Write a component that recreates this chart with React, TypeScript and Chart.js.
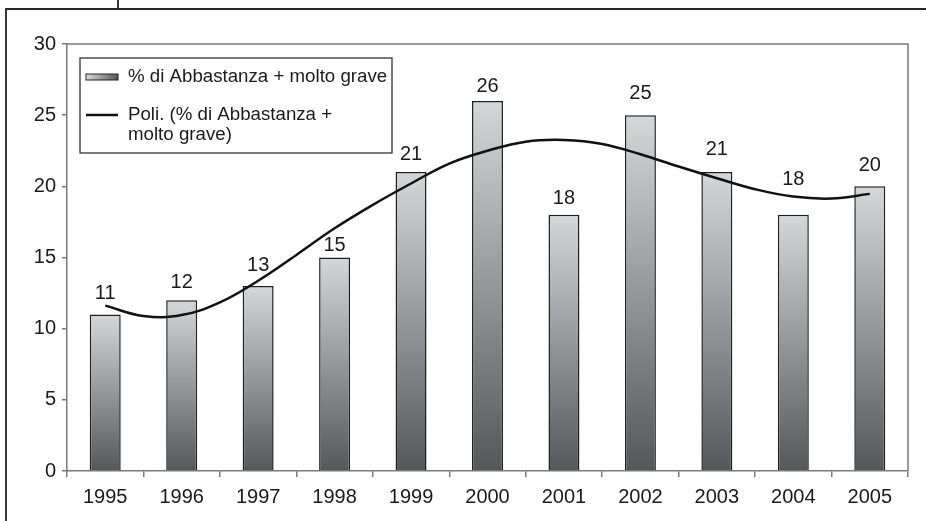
import { useEffect, useRef } from "react";
import { Chart, registerables } from "chart.js";

Chart.register(...registerables);

// Survey years shown along the x axis
const years = ["1995", "1996", "1997", "1998", "1999", "2000", "2001", "2002", "2003", "2004", "2005"];
// "% di Abbastanza + molto grave" per year
const percentGrave = [11, 12, 13, 15, 21, 26, 18, 25, 21, 18, 20];
// Polynomial trend line, sampled at whole and half year positions (0 = 1995)
const trendPos = [0, 0.5, 1, 1.5, 2, 2.5, 3, 3.5, 4, 4.5, 5, 5.5, 6, 6.5, 7, 7.5, 8, 8.5, 9, 9.5, 10];
const trendVal = [11.62, 10.89, 10.96, 11.85, 13.37, 15.18, 17.05, 18.7, 20.2, 21.6, 22.5, 23.14, 23.26, 22.98, 22.25, 21.39, 20.57, 19.8, 19.28, 19.14, 19.47];
// Value axis
const yMin = 0;
const yMax = 30;
const yStep = 5;
// Legend entries
const barLegend = "% di Abbastanza + molto grave";
const trendLegend = ["Poli. (% di Abbastanza +", "molto grave)"];

const FONT = "'Liberation Sans', Arial, Helvetica, sans-serif";
const TEXT = "#1a1a1a";
const AXIS = "#7a7a7a";
// distance of each value label's centre above its bar
const labelLift = [21, 18, 20, 12, 18, 14, 16, 22, 23, 35, 21];

const decorations = {
  id: "decorations",
  beforeDraw(chart: any) {
    const { ctx, chartArea: a } = chart;
    ctx.save();
    // outer frame
    ctx.strokeStyle = "#262626";
    ctx.lineWidth = 1.8;
    ctx.beginPath();
    ctx.moveTo(6, chart.height);
    ctx.lineTo(6, 9);
    ctx.lineTo(chart.width, 9);
    ctx.moveTo(118, 0);
    ctx.lineTo(118, 9);
    ctx.stroke();
    // plot area border (top and right)
    ctx.strokeStyle = AXIS;
    ctx.lineWidth = 1.5;
    ctx.beginPath();
    ctx.moveTo(a.left, a.top);
    ctx.lineTo(a.right, a.top);
    ctx.lineTo(a.right, a.bottom);
    ctx.stroke();
    ctx.restore();
  },
  afterDatasetsDraw(chart: any) {
    const { ctx } = chart;
    const meta = chart.getDatasetMeta(0);
    ctx.save();
    ctx.fillStyle = TEXT;
    ctx.font = `20px ${FONT}`;
    ctx.textAlign = "center";
    ctx.textBaseline = "middle";
    meta.data.forEach((el: any, i: number) => {
      ctx.fillText(String(percentGrave[i]), el.x, el.y - labelLift[i]);
    });
    ctx.restore();
  },
  afterDraw(chart: any) {
    const { ctx, chartArea: a } = chart;
    const x0 = a.left + 13;
    const y0 = a.top + 14;
    ctx.save();
    ctx.fillStyle = "#ffffff";
    ctx.fillRect(x0, y0, 312, 95);
    ctx.strokeStyle = "#333333";
    ctx.lineWidth = 1.3;
    ctx.strokeRect(x0, y0, 312, 95);
    // bar swatch
    const g = ctx.createLinearGradient(x0 + 6, 0, x0 + 38, 0);
    g.addColorStop(0, "#dadadc");
    g.addColorStop(1, "#55565a");
    ctx.fillStyle = g;
    ctx.fillRect(x0 + 6, y0 + 16, 32, 6);
    ctx.strokeStyle = "#222";
    ctx.lineWidth = 1;
    ctx.strokeRect(x0 + 6, y0 + 16, 32, 6);
    // line swatch
    ctx.strokeStyle = "#111";
    ctx.lineWidth = 2.5;
    ctx.beginPath();
    ctx.moveTo(x0 + 6, y0 + 57);
    ctx.lineTo(x0 + 38, y0 + 57);
    ctx.stroke();
    ctx.fillStyle = TEXT;
    ctx.font = `18.7px ${FONT}`;
    ctx.textAlign = "left";
    ctx.textBaseline = "middle";
    ctx.fillText(barLegend, x0 + 48, y0 + 19);
    ctx.fillText(trendLegend[0], x0 + 48, y0 + 57);
    ctx.fillText(trendLegend[1], x0 + 48, y0 + 77);
    ctx.restore();
  },
};

export default function App() {
  const canvasRef = useRef<HTMLCanvasElement | null>(null);

  useEffect(() => {
    if (!canvasRef.current) return;
    const chart = new Chart(canvasRef.current, {
      type: "bar",
      data: {
        labels: years,
        datasets: [
          {
            type: "bar",
            label: barLegend,
            data: percentGrave,
            grouped: false,
            backgroundColor: (c: any) => {
              const ch = c.chart;
              if (!ch.chartArea || c.type !== "data") return "#999";
              const ys = ch.scales.y;
              const top = ys.getPixelForValue(c.raw);
              const bottom = ys.getPixelForValue(0);
              const g = ch.ctx.createLinearGradient(0, top, 0, bottom);
              g.addColorStop(0, "#d5d6d8");
              g.addColorStop(1, "#56575b");
              return g;
            },
            borderColor: "#1e1e1e",
            borderWidth: 1.5,
            barPercentage: 0.405,
            categoryPercentage: 1,
            order: 2,
          },
          {
            type: "line",
            label: trendLegend.join(" "),
            data: trendPos.map((x, i) => ({ x, y: trendVal[i] })),
            xAxisID: "xTrend",
            borderColor: "#111",
            borderWidth: 2.5,
            pointRadius: 0,
            tension: 0.4,
            fill: false,
            order: 1,
          } as any,
        ],
      },
      options: {
        animation: false,
        responsive: false,
        layout: { padding: { top: 44, right: 18, left: 0, bottom: 0 } },
        plugins: { legend: { display: false }, tooltip: { enabled: false } },
        scales: {
          x: {
            type: "category",
            offset: true,
            grid: { offset: true, drawOnChartArea: false, tickLength: 6, color: AXIS, lineWidth: 1.5 },
            border: { color: AXIS, width: 1.5 },
            ticks: { color: TEXT, font: { family: FONT, size: 20 }, padding: 8, maxRotation: 0 },
            afterFit: (s: any) => {
              s.height = 50;
            },
          },
          xTrend: {
            type: "linear",
            display: false,
            offset: false,
            grid: { offset: false },
            min: -0.5,
            max: years.length - 0.5,
          },
          y: {
            min: yMin,
            max: yMax,
            ticks: { stepSize: yStep, color: TEXT, font: { family: FONT, size: 20 }, padding: 6 },
            grid: { drawOnChartArea: false, tickLength: 5, color: AXIS, lineWidth: 1.5 },
            border: { color: AXIS, width: 1.5 },
            afterFit: (s: any) => {
              s.width = 67;
            },
          },
        },
      },
      plugins: [decorations],
    });
    return () => chart.destroy();
  }, []);

  return (
    <div style={{ position: "absolute", left: 0, top: 0, width: 926, height: 521, background: "#fff" }}>
      <canvas ref={canvasRef} width={926} height={521} style={{ display: "block" }} />
    </div>
  );
}
